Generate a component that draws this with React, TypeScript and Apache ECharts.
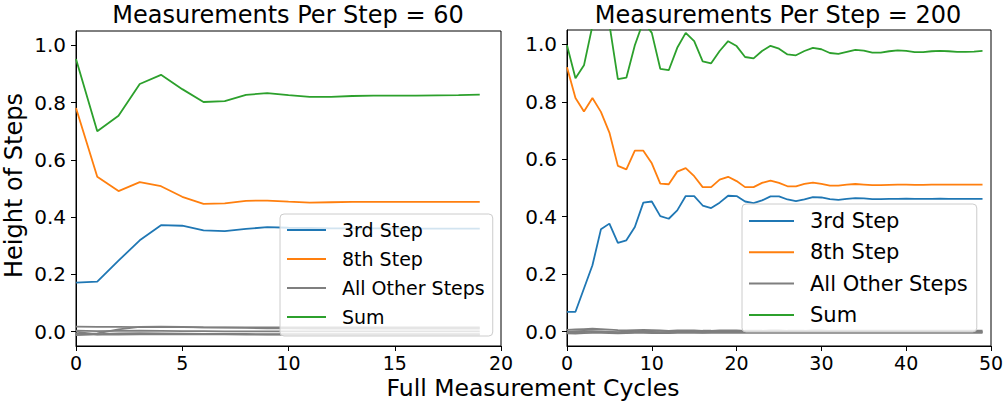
import React, { useEffect, useRef } from "react";
import * as echarts from "echarts";

// ---- data ----
const legendNames = ["3rd Step", "8th Step", "All Other Steps", "Sum"];
const yTicks = [0, 0.2, 0.4, 0.6, 0.8, 1.0];

// Measurements Per Step = 60 (cycles 0..19)
const step3_60 = [0.171, 0.175, 0.248, 0.319, 0.372, 0.370, 0.354, 0.351, 0.359, 0.365, 0.363, 0.362, 0.361, 0.361, 0.361, 0.361, 0.360, 0.360, 0.360, 0.360];
const step8_60 = [0.781, 0.541, 0.491, 0.522, 0.508, 0.471, 0.446, 0.448, 0.457, 0.458, 0.454, 0.451, 0.452, 0.453, 0.453, 0.453, 0.453, 0.453, 0.453, 0.453];
const sum_60 = [0.952, 0.700, 0.754, 0.865, 0.897, 0.847, 0.802, 0.805, 0.827, 0.833, 0.826, 0.820, 0.820, 0.823, 0.824, 0.824, 0.824, 0.825, 0.826, 0.828];
const other60a = [0.018, 0.017, 0.017, 0.016, 0.016, 0.016, 0.015, 0.015, 0.015, 0.015, 0.015, 0.015, 0.015, 0.015, 0.015, 0.015, 0.015, 0.015, 0.015, 0.015];
const other60b = [-0.008, -0.006, 0.008, 0.017, 0.018, 0.017, 0.015, 0.014, 0.013, 0.012, 0.012, 0.011, 0.011, 0.011, 0.011, 0.011, 0.011, 0.011, 0.011, 0.011];
const other60c = [0.004, 0.002, 0.003, 0.004, 0.003, 0.002, 0.002, 0.001, 0.001, 0.001, 0.001, 0.001, 0.001, 0.001, 0.001, 0.001, 0.001, 0.001, 0.001, 0.001];
const other60d = [-0.012, -0.009, -0.006, -0.005, -0.006, -0.007, -0.008, -0.008, -0.008, -0.009, -0.009, -0.009, -0.009, -0.009, -0.009, -0.009, -0.009, -0.009, -0.009, -0.009];
const other60e = [0.0, -0.010, -0.010, -0.009, -0.009, -0.009, -0.009, -0.009, -0.010, -0.010, -0.010, -0.010, -0.010, -0.010, -0.010, -0.010, -0.010, -0.010, -0.010, -0.010];

// Measurements Per Step = 200 (cycles 0..49)
const step3_200 = [0.069, 0.069, 0.150, 0.231, 0.356, 0.376, 0.309, 0.318, 0.364, 0.449, 0.453, 0.402, 0.393, 0.422, 0.472, 0.472, 0.439, 0.430, 0.449, 0.473, 0.472, 0.453, 0.447, 0.457, 0.471, 0.471, 0.460, 0.454, 0.460, 0.468, 0.467, 0.461, 0.459, 0.462, 0.465, 0.464, 0.461, 0.461, 0.462, 0.462, 0.463, 0.462, 0.462, 0.462, 0.463, 0.462, 0.462, 0.462, 0.462, 0.462];
const step8_200 = [0.920, 0.813, 0.766, 0.813, 0.765, 0.693, 0.577, 0.565, 0.630, 0.630, 0.586, 0.515, 0.513, 0.557, 0.569, 0.541, 0.503, 0.503, 0.529, 0.539, 0.524, 0.503, 0.503, 0.518, 0.526, 0.518, 0.506, 0.506, 0.514, 0.519, 0.514, 0.508, 0.508, 0.512, 0.514, 0.512, 0.510, 0.510, 0.511, 0.512, 0.512, 0.511, 0.511, 0.512, 0.512, 0.512, 0.512, 0.512, 0.512, 0.512];
const sum_200 = [0.997, 0.882, 0.927, 1.065, 1.120, 1.070, 0.879, 0.884, 0.997, 1.080, 1.040, 0.915, 0.910, 0.988, 1.040, 1.011, 0.941, 0.934, 0.977, 1.011, 0.994, 0.956, 0.951, 0.977, 0.995, 0.985, 0.965, 0.962, 0.977, 0.988, 0.983, 0.970, 0.967, 0.974, 0.981, 0.978, 0.971, 0.971, 0.976, 0.979, 0.977, 0.973, 0.973, 0.976, 0.977, 0.976, 0.974, 0.974, 0.975, 0.977];
const other200a = [0.006, 0.008, 0.009, 0.010, 0.009, 0.007, 0.005, 0.004, 0.005, 0.006, 0.005, 0.004, 0.003, 0.004, 0.004, 0.004, 0.003, 0.003, 0.004, 0.004, 0.004, 0.003, 0.003, 0.003, 0.004, 0.004, 0.003, 0.003, 0.003, 0.004, 0.004, 0.003, 0.003, 0.003, 0.003, 0.003, 0.003, 0.003, 0.003, 0.003, 0.003, 0.003, 0.003, 0.003, 0.003, 0.003, 0.003, 0.003, 0.003, 0.003];
const other200b = [0.000, 0.002, 0.003, 0.002, 0.000, -0.002, -0.002, 0.000, 0.001, 0.000, -0.001, -0.002, -0.001, 0.000, 0.000, -0.001, -0.001, 0.000, 0.000, 0.000, 0.000, -0.001, -0.001, 0.000, 0.000, 0.000, -0.001, -0.001, 0.000, 0.000, 0.000, 0.000, -0.001, 0.000, 0.000, 0.000, 0.000, 0.000, 0.000, 0.000, 0.000, 0.000, 0.000, 0.000, 0.000, 0.000, 0.000, 0.000, 0.000, 0.000];
const other200c = [-0.006, -0.007, -0.005, -0.004, -0.004, -0.005, -0.006, -0.005, -0.004, -0.004, -0.005, -0.005, -0.005, -0.004, -0.004, -0.004, -0.004, -0.004, -0.004, -0.004, -0.004, -0.004, -0.004, -0.004, -0.004, -0.004, -0.004, -0.004, -0.004, -0.004, -0.004, -0.004, -0.004, -0.004, -0.004, -0.004, -0.004, -0.004, -0.004, -0.004, -0.004, -0.004, -0.004, -0.004, -0.004, -0.004, -0.004, -0.004, -0.004, -0.004];
const other200d = [-0.002, -0.004, -0.002, 0.000, 0.001, 0.000, -0.003, -0.003, -0.002, -0.001, -0.002, -0.003, -0.003, -0.002, -0.002, -0.002, -0.003, -0.002, -0.002, -0.002, -0.002, -0.002, -0.002, -0.002, -0.002, -0.002, -0.002, -0.002, -0.002, -0.002, -0.002, -0.002, -0.002, -0.002, -0.002, -0.002, -0.002, -0.002, -0.002, -0.002, -0.002, -0.002, -0.002, -0.002, -0.002, -0.002, -0.002, -0.002, -0.002, -0.002];

const F = "DejaVu Sans";
const C_BLUE = "#1f77b4";
const C_ORANGE = "#ff7f0e";
const C_GRAY = "#7f7f7f";
const C_GREEN = "#2ca02c";

function line(name: string, color: string, vals: number[], idx: number) {
  return {
    type: "line",
    name,
    xAxisIndex: idx,
    yAxisIndex: idx,
    data: vals.map((v, i) => [i, v]),
    symbol: "none",
    showSymbol: false,
    clip: true,
    lineStyle: { color, width: 1.8 },
    itemStyle: { color },
    emphasis: { disabled: true },
  };
}

function xAxis(idx: number, max: number, interval: number) {
  return {
    type: "value",
    gridIndex: idx,
    min: 0,
    max,
    interval,
    splitLine: { show: false },
    axisLine: { show: true, onZero: false, lineStyle: { color: "#000", width: 1 } },
    axisTick: { show: true, inside: false, length: 5, lineStyle: { color: "#000" } },
    axisLabel: { color: "#000", fontFamily: F, fontSize: 19, lineHeight: 16, margin: 9 },
  };
}

function yAxis(idx: number) {
  return {
    type: "value",
    gridIndex: idx,
    min: -0.05,
    max: 1.05,
    splitLine: { show: false },
    axisLine: { show: true, onZero: false, lineStyle: { color: "#000", width: 1 } },
    axisTick: { show: true, inside: false, length: 5, lineStyle: { color: "#000" }, customValues: yTicks },
    axisLabel: {
      color: "#000",
      fontFamily: F,
      fontSize: 20,
      margin: 10,
      customValues: yTicks,
      formatter: (v: number) => v.toFixed(1),
    },
  };
}

function legend(left: number, top: number, fs: number, lh: number, iw: number, gap: number, pad: number[]) {
  return {
    data: legendNames,
    orient: "vertical",
    left,
    top,
    padding: pad,
    itemWidth: iw,
    itemHeight: 2,
    itemGap: gap,
    icon: "rect",
    selectedMode: false,
    backgroundColor: "rgba(255,255,255,0.8)",
    borderColor: "#cccccc",
    borderWidth: 1,
    borderRadius: 4,
    textStyle: { fontFamily: F, fontSize: fs, color: "#000", lineHeight: lh, padding: [0, 0, 0, 11] },
  };
}

export default function App() {
  const ref = useRef<HTMLDivElement>(null);
  useEffect(() => {
    if (!ref.current) return;
    const chart = echarts.init(ref.current, null, { renderer: "svg" });
    chart.setOption({
      animation: false,
      backgroundColor: "#fff",
      grid: [
        { left: 76, top: 31, width: 425, height: 315, show: true, borderColor: "#000", borderWidth: 1 },
        { left: 567, top: 30, width: 424, height: 316, show: true, borderColor: "#000", borderWidth: 1 },
      ],
      xAxis: [xAxis(0, 20, 5), xAxis(1, 50, 10)],
      yAxis: [yAxis(0), yAxis(1)],
      legend: [
        legend(280, 214, 19, 20, 39, 9, [6, 8, 9, 7]),
        legend(742, 204, 21, 22, 45, 9.3, [6, 9, 6, 7]),
      ],
      series: [
        line("3rd Step", C_BLUE, step3_60, 0),
        line("8th Step", C_ORANGE, step8_60, 0),
        line("All Other Steps", C_GRAY, other60a, 0),
        line("All Other Steps", C_GRAY, other60b, 0),
        line("All Other Steps", C_GRAY, other60c, 0),
        line("All Other Steps", C_GRAY, other60d, 0),
        line("All Other Steps", C_GRAY, other60e, 0),
        line("Sum", C_GREEN, sum_60, 0),
        line("3rd Step", C_BLUE, step3_200, 1),
        line("8th Step", C_ORANGE, step8_200, 1),
        line("All Other Steps", C_GRAY, other200a, 1),
        line("All Other Steps", C_GRAY, other200b, 1),
        line("All Other Steps", C_GRAY, other200c, 1),
        line("All Other Steps", C_GRAY, other200d, 1),
        line("Sum", C_GREEN, sum_200, 1),
      ],
      graphic: [
        {
          type: "text",
          x: 288,
          y: 14.5,
          style: { text: "Measurements Per Step = 60", fontFamily: F, fontSize: 24, fill: "#000", align: "center", verticalAlign: "middle" },
        },
        {
          type: "text",
          x: 778,
          y: 14.5,
          style: { text: "Measurements Per Step = 200", fontFamily: F, fontSize: 24, fill: "#000", align: "center", verticalAlign: "middle" },
        },
        {
          type: "text",
          x: 533,
          y: 388,
          style: { text: "Full Measurement Cycles", fontFamily: F, fontSize: 23.5, lineHeight: 22, fill: "#000", align: "center", verticalAlign: "middle" },
        },
        {
          type: "text",
          x: 13.6,
          y: 185.5,
          rotation: Math.PI / 2,
          style: { text: "Height of Steps", fontFamily: F, fontSize: 24, fill: "#000", align: "center", verticalAlign: "middle" },
        },
      ],
    });
    return () => chart.dispose();
  }, []);
  return (
    <div
      ref={ref}
      style={{ position: "fixed", left: 0, top: 0, width: "1007px", height: "403px", background: "#fff" }}
    />
  );
}
